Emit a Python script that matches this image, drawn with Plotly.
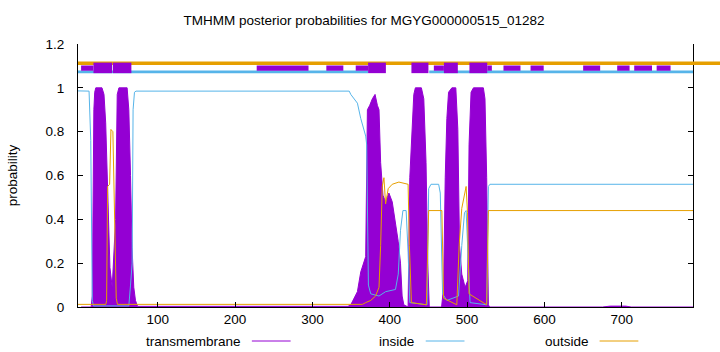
import plotly.graph_objects as go

# ---------------- data ----------------
seq_len = 792
title_text = "TMHMM posterior probabilities for MGYG000000515_01282"

# posterior probability of transmembrane (breakpoints)
tm_pos = [1, 14, 15.5, 16.5, 17.5, 18.6, 20, 28, 30.6, 32.8, 34.8, 36.1, 38.3, 41.2, 43.4, 45.6,
          47.7, 49.9, 60.5, 62.7, 64.9, 66.9, 69.1, 71.3, 74, 346, 349.6, 354, 358.2, 362.5, 365.5,
          368.9, 371.1, 374.1, 377.5, 381, 384, 386.1, 388.2, 391.2, 394.6, 398.9, 403.2, 407.4,
          410.9, 413.9, 416, 418.2, 423.7, 425.9, 428, 431.1, 433.1, 440.9, 444, 446.9, 449.1,
          451.1, 467, 469.6, 471.7, 473.8, 476, 480.3, 485.4, 488, 490.2, 493.1, 497.4, 500.8,
          502.5, 505.1, 508.2, 521, 523.1, 525.3, 527.5, 529, 675, 685, 705, 712, 792]
tm_val = [0.0, 0.0, 0.05, 0.6, 0.9, 0.98, 1.0, 1.0, 0.97, 0.84, 0.61, 0.44, 0.18, 0.09, 0.22, 0.4,
          0.97, 1.0, 1.0, 0.9, 0.6, 0.27, 0.09, 0.03, 0.003, 0.003, 0.01, 0.04, 0.07, 0.16, 0.19,
          0.23, 0.9, 0.92, 0.95, 0.97, 0.92, 0.9, 0.66, 0.51, 0.48, 0.52, 0.48, 0.39,
          0.3, 0.2, 0.05, 0.01, 0.0, 0.59, 0.77, 0.97, 1.0, 1.0, 0.95, 0.66, 0.2,
          0.0, 0.0, 0.09, 0.59, 0.86, 0.98, 1.0, 1.0, 0.81, 0.28, 0.15, 0.09, 0.12,
          0.74, 0.98, 1.0, 1.0, 0.95, 0.59, 0.01, 0.0, 0.0, 0.004, 0.004, 0.0, 0.0]

inside_pos = [-3, 11.3, 13.5, 15.5, 17, 62.7, 64.9, 67, 68.2, 70, 72, 347.6, 349.6, 354, 358.2,
              362.5, 366.8, 368.9, 370.2, 372.4, 375.4, 386.1, 394.6, 407.4, 411, 413.9, 417,
              421.2, 423.7, 425.9, 448.2, 450.3, 453.3, 463.2, 465.3, 468.3, 473.8, 488.9, 493.1,
              496.6, 498.7, 501.7, 503.8, 525.3, 527.5, 529.5, 792]
inside_val = [0.986, 0.985, 0.76, 0.03, 0.005, 0.005, 0.1, 0.2, 0.9, 0.98, 0.985, 0.985, 0.97,
              0.95, 0.93, 0.86, 0.81, 0.78, 0.74, 0.1, 0.06, 0.05, 0.07, 0.08, 0.15, 0.35, 0.44,
              0.44, 0.25, 0.02, 0.01, 0.54, 0.56, 0.56, 0.52, 0.06, 0.03, 0.05, 0.28,
              0.43, 0.44, 0.2, 0.02, 0.01, 0.55, 0.56, 0.56]

outside_pos = [-3, 33, 34, 35.3, 37.9, 39.6, 42.1, 44.3, 46.4, 48, 364.6, 368.9, 375.4, 381.7,
               386.1, 388.2, 390.3, 392.5, 394.6, 398, 403.2, 411.8, 423.7, 425.4, 428, 447.3,
               450.3, 467.4, 469.6, 486.7, 489.7, 493.1, 496.6, 498.7, 500.5, 502.5, 525.3,
               527.5, 792]
outside_val = [0.012, 0.012, 0.03, 0.55, 0.56, 0.81, 0.8, 0.43, 0.04, 0.012, 0.012, 0.02, 0.03,
               0.05, 0.09, 0.28, 0.55, 0.59, 0.47, 0.54, 0.56, 0.57, 0.56, 0.28, 0.02, 0.01,
               0.44, 0.44, 0.04, 0.01, 0.28, 0.45, 0.52, 0.55, 0.43, 0.06, 0.01, 0.44, 0.44]

# predicted topology band on top
tm_box_start = [1, 17, 42, 228, 318, 356, 372, 428, 457, 470, 503, 526, 547, 582, 650, 694, 716, 745]
tm_box_end = [17, 41, 66, 295, 340, 372, 395, 450, 470, 488, 526, 532, 569, 599, 672, 710, 739, 763]
tm_box_big = [0, 1, 1, 0, 0, 0, 1, 1, 0, 1, 1, 0, 0, 0, 0, 0, 0, 0]
inside_seg_start = [-3, 451]
inside_seg_end = [372, 792]

x_ticks = [100, 200, 300, 400, 500, 600, 700]
y_ticks = [0, 0.2, 0.4, 0.6, 0.8, 1.0, 1.2]
y_tick_labels = ["0", "0.2", "0.4", "0.6", "0.8", "1", "1.2"]
legend_names = ["transmembrane", "inside", "outside"]

# ---------------- style ----------------
PURPLE = "#9400D3"
BLUE = "#56B4E9"
ORANGE = "#E69F00"
FONT = "Liberation Sans"

fig = go.Figure()
fig.add_trace(go.Scatter(x=tm_pos, y=tm_val, mode="lines", fill="tozeroy",
                         line=dict(color=PURPLE, width=1), fillcolor=PURPLE,
                         showlegend=False))
fig.add_trace(go.Scatter(x=inside_pos, y=inside_val, mode="lines",
                         line=dict(color=BLUE, width=1), showlegend=False))
fig.add_trace(go.Scatter(x=outside_pos, y=outside_val, mode="lines",
                         line=dict(color=ORANGE, width=1), showlegend=False))

shapes = []
# outside line (extends past the right border)
shapes.append(dict(type="line", xref="paper", yref="y", x0=0, x1=1.05, y0=1.112, y1=1.112,
                   line=dict(color=ORANGE, width=3.6)))
for s, e in zip(inside_seg_start, inside_seg_end):
    shapes.append(dict(type="line", xref="x", yref="y", x0=s, x1=e, y0=1.073, y1=1.073,
                       line=dict(color=BLUE, width=2.6)))
for s, e, b in zip(tm_box_start, tm_box_end, tm_box_big):
    y0, y1 = (1.067, 1.115) if b else (1.078, 1.102)
    shapes.append(dict(type="rect", xref="x", yref="y", x0=s, x1=e, y0=y0, y1=y1,
                       line=dict(width=0), fillcolor=PURPLE))

# legend (gnuplot style: text then line sample)
L, R, T, B = 74, 27, 44, 45
pw, ph = 720 - L - R, 352 - T - B
def px_x(px):
    return (px - L) / pw
def px_y(py):
    return (352 - B - py) / ph

annotations = []
leg_text_end = [240, 414, 590]
leg_line = [(249, 288), (424, 463), (599, 638)]
leg_colors = [PURPLE, BLUE, ORANGE]
for name, te, (l0, l1), c in zip(legend_names, leg_text_end, leg_line, leg_colors):
    annotations.append(dict(text=name, xref="paper", yref="paper", x=px_x(te), y=px_y(341),
                            xanchor="right", yanchor="middle", showarrow=False,
                            font=dict(family=FONT, size=13.5, color="#000")))
    shapes.append(dict(type="line", xref="paper", yref="paper", x0=px_x(l0), x1=px_x(l1),
                       y0=px_y(341), y1=px_y(341), line=dict(color=c, width=1)))

fig.update_layout(
    width=720, height=352,
    margin=dict(l=L, r=R, t=T, b=B),
    paper_bgcolor="white", plot_bgcolor="white",
    font=dict(family=FONT, size=13.5, color="#000"),
    title=dict(text=title_text, x=364 / 720, xref="container", xanchor="center",
               y=1 - 20 / 352, yref="container", yanchor="middle",
               font=dict(family=FONT, size=13.5, color="#000")),
    shapes=shapes,
    annotations=annotations,
    showlegend=False,
)
fig.update_xaxes(range=[-3, seq_len], tickvals=x_ticks, showgrid=False, zeroline=False,
                 showline=True, linecolor="#000", linewidth=1, mirror=False,
                 ticks="inside", ticklen=5, tickcolor="#000",
                 tickfont=dict(family=FONT, size=13.5))
fig.update_yaxes(range=[0, 1.2], tickvals=y_ticks, ticktext=y_tick_labels, showgrid=False,
                 zeroline=False, showline=True, linecolor="#000", linewidth=1, mirror="ticks",
                 ticks="inside", ticklen=5, tickcolor="#000", ticklabelstandoff=10,
                 tickfont=dict(family=FONT, size=13.5),
                 title=dict(text="probability", font=dict(family=FONT, size=13.5), standoff=24))

fig.write_html("out.html")
